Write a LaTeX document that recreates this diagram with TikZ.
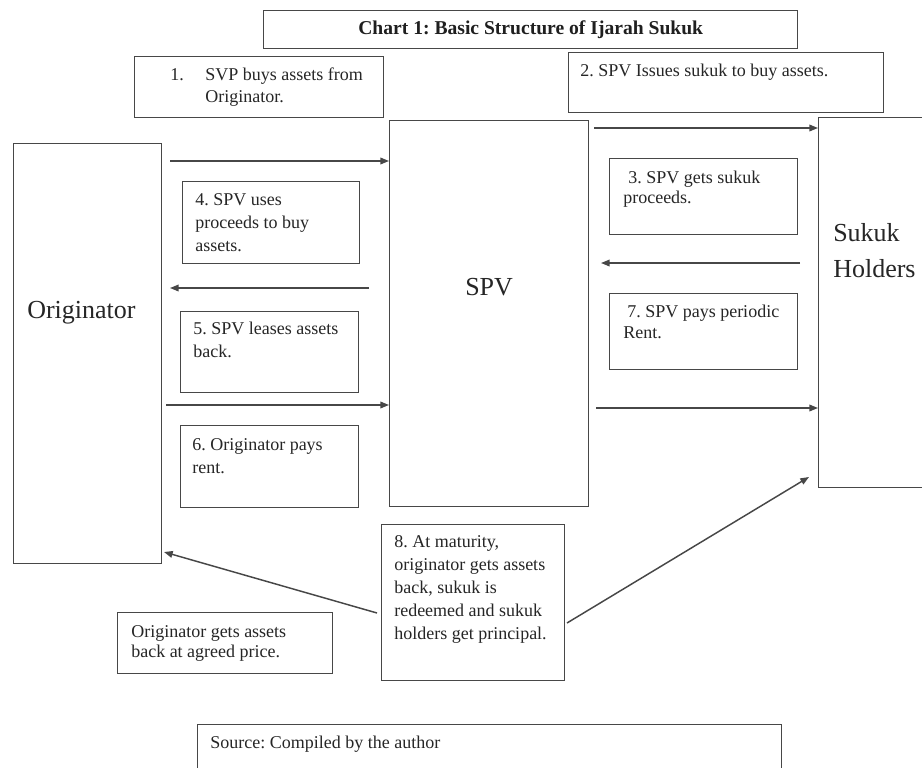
\documentclass[tikz,border=0pt]{standalone}
\usepackage{fontspec}
\setmainfont{Liberation Serif}
\usetikzlibrary{arrows.meta}
\frenchspacing
\newcommand\mkbox[5]{\node[frame, anchor=north west, minimum width={(#4-#2)*0.75pt}, minimum height={(#5-#3)*0.75pt}] (#1) at (#2,#3) {};}
\begin{document}
\frenchspacing
\begin{tikzpicture}[x=0.75pt, y=-0.75pt,
  frame/.style={draw=black!72, line width=1.1pt, rectangle, inner sep=0pt, fill=white},
  txt/.style={anchor=base west, inner sep=0pt, text=black!85, font=\fontsize{13.5}{17.5}\selectfont},
  big/.style={anchor=base west, inner sep=0pt, text=black!85, font=\fontsize{19.5}{27}\selectfont},
  arr/.style={draw=black!72, line width=1.1pt, -{Triangle[length=6.5pt,width=5pt]}}]
\useasboundingbox (0,0) rectangle (922,768);
\clip (0,0) rectangle (922,768);
% title
\mkbox{title}{263}{10}{797}{48}
\node[inner sep=0pt, text=black!88, font=\fontsize{14.7}{17}\selectfont\bfseries] (ttl) at (title.center) {Chart 1: Basic Structure of Ijarah Sukuk};
% main boxes
\mkbox{orig}{13}{143}{161}{563}
\mkbox{spv}{389}{120}{588}{506}
\mkbox{sh}{818}{117}{950}{487}
\node[big] (origt) at (27,318) {Originator};
\node[big] (spvt) at (465,295) {SPV};
\node[big] (sht) at (833,241) {\parbox[t]{3cm}{Sukuk\\Holders}};
% label boxes
\mkbox{b1}{134}{56}{383}{117}
\node[txt, font=\fontsize{13.5}{16.5}\selectfont] (t1) at (205,80) {\parbox[t]{6cm}{\leavevmode\llap{1.\hspace{16pt}}SVP buys assets from\\Originator.}};
\mkbox{b2}{568}{52}{883}{112}
\node[txt] (t2) at (580,76) {2. SPV Issues sukuk to buy assets.};
\mkbox{b4}{182}{181}{359}{263}
\node[txt, font=\fontsize{13.5}{17.6}\selectfont] (t4) at (195,205) {\parbox[t]{6cm}{4. SPV uses\\proceeds to buy\\assets.}};
\mkbox{b5}{180}{311}{358}{392}
\node[txt, font=\fontsize{13.5}{17.3}\selectfont] (t5) at (193,334) {\parbox[t]{6cm}{5. SPV leases assets\\back.}};
\mkbox{b6}{180}{425}{358}{507}
\node[txt, font=\fontsize{13.5}{17.3}\selectfont] (t6) at (192,450) {\parbox[t]{6cm}{6. Originator pays\\rent.}};
\mkbox{b3}{609}{158}{797}{234}
\node[txt, font=\fontsize{13.5}{15.4}\selectfont] (t3) at (623,183) {\parbox[t]{6cm}{\hspace*{3.75pt}3. SPV gets sukuk\\proceeds.}};
\mkbox{b7}{609}{293}{797}{369}
\node[txt, font=\fontsize{13.5}{15.8}\selectfont] (t7) at (623,317) {\parbox[t]{6cm}{\hspace*{3pt}7. SPV pays periodic\\Rent.}};
\mkbox{b8}{381}{524}{564}{680}
\node[txt, font=\fontsize{13.5}{17.3}\selectfont] (t8) at (394,547) {\parbox[t]{6cm}{8. At maturity,\\originator gets assets\\back, sukuk is\\redeemed and sukuk\\holders get principal.}};
\mkbox{b9}{117}{612}{332}{673}
\node[txt, font=\fontsize{13.5}{15.4}\selectfont] (t9) at (131,637) {\parbox[t]{6cm}{Originator gets assets\\back at agreed price.}};
\mkbox{src}{197}{724}{781}{800}
\node[txt] (tsrc) at (210,748) {Source: Compiled by the author};
% connectors
\coordinate (s1) at (170,161);
\draw[arr] (s1) -- (spv.west |- s1);
\coordinate (s4) at (369,288);
\coordinate (e4) at (170,288);
\draw[arr] (s4) -- (e4);
\coordinate (s6) at (166,405);
\draw[arr] (s6) -- (spv.west |- s6);
\coordinate (s2) at (594,128);
\draw[arr] (s2) -- (sh.west |- s2);
\coordinate (s3) at (800,263);
\coordinate (e3) at (601,263);
\draw[arr] (s3) -- (e3);
\coordinate (s7) at (596,408);
\draw[arr] (s7) -- (sh.west |- s7);
\coordinate (s8l) at (377,613);
\coordinate (e8l) at (164,552);
\draw[arr] (s8l) -- (e8l);
\coordinate (s8r) at (567,623);
\coordinate (e8r) at (809,477);
\draw[arr] (s8r) -- (e8r);
\end{tikzpicture}
\end{document}
